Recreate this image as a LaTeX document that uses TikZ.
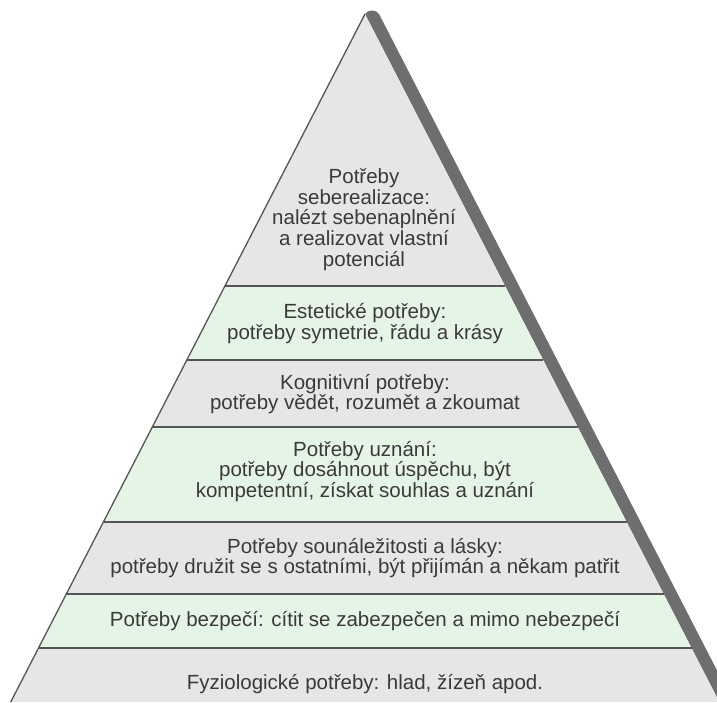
\documentclass[tikz,border=0pt]{standalone}
\usepackage{fontspec}
\setmainfont{Liberation Sans}
\definecolor{layergrey}{HTML}{E6E6E6}
\definecolor{layergreen}{HTML}{E5F5E5}
\definecolor{sepline}{HTML}{555555}
\definecolor{shadowband}{HTML}{6E6E6E}
\definecolor{txt}{HTML}{3A3A3A}
\begin{document}
\begin{tikzpicture}[x=1pt,y=-1pt,
  greylayer/.style={fill=layergrey},
  greenlayer/.style={fill=layergreen},
  sep/.style={draw=sepline,line width=2.2pt},
  edge/.style={draw=sepline,line width=1.3pt},
  lbl/.style={align=center,text=txt,font=\fontsize{20.5}{20.8}\selectfont,inner sep=0pt}]
\useasboundingbox (0,0) rectangle (717,702);
% key coordinates
\coordinate (apex) at (365,14);
\coordinate (l1) at (224.9,286); \coordinate (r1) at (505.1,286);
\coordinate (l2) at (186.8,360); \coordinate (r2) at (543.2,360);
\coordinate (l3) at (152.3,427); \coordinate (r3) at (577.7,427);
\coordinate (l4) at (103.4,522); \coordinate (r4) at (626.6,522);
\coordinate (l5) at (66.3,594);  \coordinate (r5) at (663.7,594);
\coordinate (l6) at (38.5,648);  \coordinate (r6) at (691.5,648);
\coordinate (l7) at (10.7,702);  \coordinate (r7) at (719.3,702);
% shadow band along right edge
\begin{scope}
\clip (0,0) rectangle (717,702);
\fill[shadowband] (apex) to[out=60,in=120] (379,14) -- (733.3,702) -- (r7) -- cycle;
% layers
\path[greylayer]  (apex) -- (r1) -- (l1) -- cycle;
\path[greenlayer] (l1) -- (r1) -- (r2) -- (l2) -- cycle;
\path[greylayer]  (l2) -- (r2) -- (r3) -- (l3) -- cycle;
\path[greenlayer] (l3) -- (r3) -- (r4) -- (l4) -- cycle;
\path[greylayer]  (l4) -- (r4) -- (r5) -- (l5) -- cycle;
\path[greenlayer] (l5) -- (r5) -- (r6) -- (l6) -- cycle;
\path[greylayer]  (l6) -- (r6) -- (r7) -- (l7) -- cycle;
% separators
\draw[sep] (l1) -- (r1);
\draw[sep] (l2) -- (r2);
\draw[sep] (l3) -- (r3);
\draw[sep] (l4) -- (r4);
\draw[sep] (l5) -- (r5);
\draw[sep] (l6) -- (r6);
% left outline
\draw[edge] (apex) -- (l7);
\end{scope}
% labels
\node[lbl] (t1) at (364,219.5) {Potřeby\\seberealizace:\\nalézt sebenaplnění\\a realizovat vlastní\\potenciál};
\node[lbl] (t2) at (365,323.5) {Estetické potřeby:\\potřeby symetrie, řádu a krásy};
\node[lbl] (t3) at (365,394) {Kognitivní potřeby:\\potřeby vědět, rozumět a zkoumat};
\node[lbl] (t4) at (365,471.5) {Potřeby uznání:\\potřeby dosáhnout úspěchu, být\\kompetentní, získat souhlas a uznání};
\node[lbl] (t5) at (365,558) {Potřeby sounáležitosti a lásky:\\potřeby družit se s ostatními, být přijímán a někam patřit};
\node[lbl] (t6) at (365,621) {Potřeby bezpečí: cítit se zabezpečen a mimo nebezpečí};
\node[lbl] (t7) at (365,684) {Fyziologické potřeby: hlad, žízeň apod.};
\end{tikzpicture}
\end{document}
